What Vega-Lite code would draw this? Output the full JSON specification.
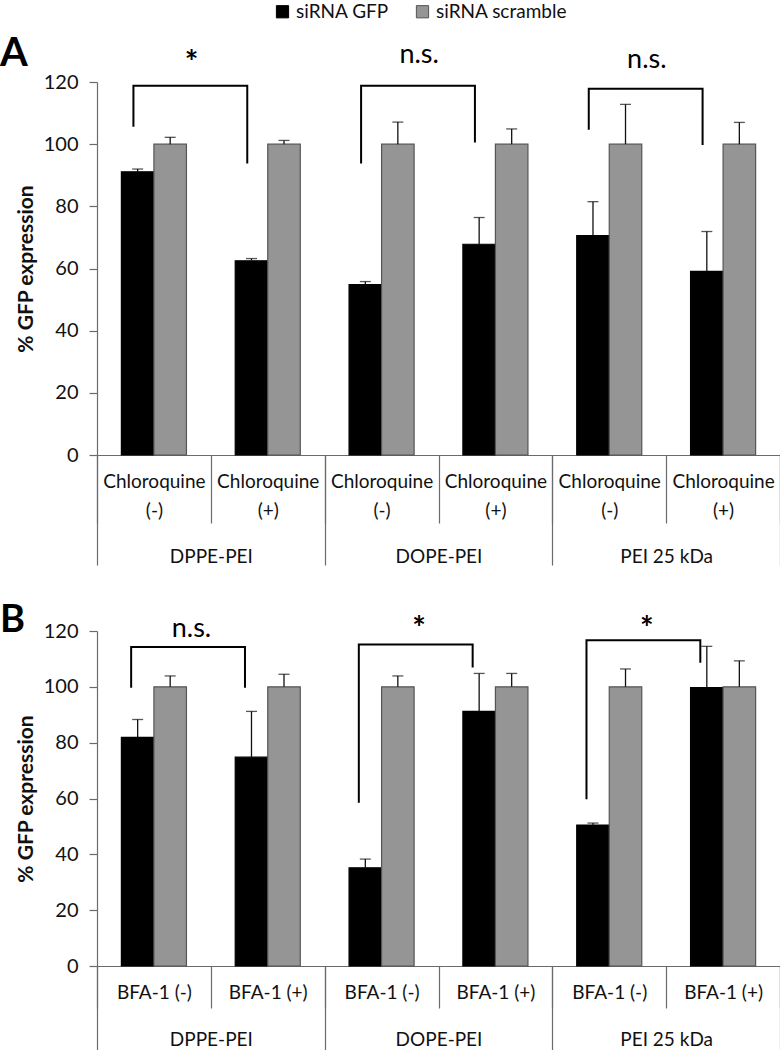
{
  "$schema": "https://vega.github.io/schema/vega-lite/v6.json",
  "padding": {"left": 0, "top": 2, "right": 0, "bottom": 0},
  "datasets": {
    "barsA": [
      {"group": "DPPE-PEI", "slot": "DPPE-PEI: Chloroquine (-)", "series": "siRNA GFP", "value": 91.1, "upper": 92.0},
      {"group": "DPPE-PEI", "slot": "DPPE-PEI: Chloroquine (-)", "series": "siRNA scramble", "value": 100, "upper": 102.2},
      {"group": "DPPE-PEI", "slot": "DPPE-PEI: Chloroquine (+)", "series": "siRNA GFP", "value": 62.5, "upper": 63.2},
      {"group": "DPPE-PEI", "slot": "DPPE-PEI: Chloroquine (+)", "series": "siRNA scramble", "value": 100, "upper": 101.2},
      {"group": "DOPE-PEI", "slot": "DOPE-PEI: Chloroquine (-)", "series": "siRNA GFP", "value": 54.8, "upper": 55.8},
      {"group": "DOPE-PEI", "slot": "DOPE-PEI: Chloroquine (-)", "series": "siRNA scramble", "value": 100, "upper": 107.1},
      {"group": "DOPE-PEI", "slot": "DOPE-PEI: Chloroquine (+)", "series": "siRNA GFP", "value": 67.8, "upper": 76.4},
      {"group": "DOPE-PEI", "slot": "DOPE-PEI: Chloroquine (+)", "series": "siRNA scramble", "value": 100, "upper": 104.9},
      {"group": "PEI 25 kDa", "slot": "PEI 25 kDa: Chloroquine (-)", "series": "siRNA GFP", "value": 70.6, "upper": 81.5},
      {"group": "PEI 25 kDa", "slot": "PEI 25 kDa: Chloroquine (-)", "series": "siRNA scramble", "value": 100, "upper": 112.8},
      {"group": "PEI 25 kDa", "slot": "PEI 25 kDa: Chloroquine (+)", "series": "siRNA GFP", "value": 59.1, "upper": 71.9},
      {"group": "PEI 25 kDa", "slot": "PEI 25 kDa: Chloroquine (+)", "series": "siRNA scramble", "value": 100, "upper": 107.0}
    ],
    "barsB": [
      {"group": "DPPE-PEI", "slot": "DPPE-PEI: BFA-1  (-)", "series": "siRNA GFP", "value": 81.9, "upper": 88.3},
      {"group": "DPPE-PEI", "slot": "DPPE-PEI: BFA-1  (-)", "series": "siRNA scramble", "value": 100, "upper": 103.9},
      {"group": "DPPE-PEI", "slot": "DPPE-PEI: BFA-1 (+)", "series": "siRNA GFP", "value": 74.8, "upper": 91.2},
      {"group": "DPPE-PEI", "slot": "DPPE-PEI: BFA-1 (+)", "series": "siRNA scramble", "value": 100, "upper": 104.5},
      {"group": "DOPE-PEI", "slot": "DOPE-PEI: BFA-1  (-)", "series": "siRNA GFP", "value": 35.2, "upper": 38.3},
      {"group": "DOPE-PEI", "slot": "DOPE-PEI: BFA-1  (-)", "series": "siRNA scramble", "value": 100, "upper": 103.9},
      {"group": "DOPE-PEI", "slot": "DOPE-PEI: BFA-1 (+)", "series": "siRNA GFP", "value": 91.2, "upper": 104.8},
      {"group": "DOPE-PEI", "slot": "DOPE-PEI: BFA-1 (+)", "series": "siRNA scramble", "value": 100, "upper": 104.8},
      {"group": "PEI 25 kDa", "slot": "PEI 25 kDa: BFA-1  (-)", "series": "siRNA GFP", "value": 50.5, "upper": 51.2},
      {"group": "PEI 25 kDa", "slot": "PEI 25 kDa: BFA-1  (-)", "series": "siRNA scramble", "value": 100, "upper": 106.4},
      {"group": "PEI 25 kDa", "slot": "PEI 25 kDa: BFA-1 (+)", "series": "siRNA GFP", "value": 99.7, "upper": 114.5},
      {"group": "PEI 25 kDa", "slot": "PEI 25 kDa: BFA-1 (+)", "series": "siRNA scramble", "value": 100, "upper": 109.3}
    ],
    "bracketsA": [
      {"bracket": 1, "order": 1, "slot": "DPPE-PEI: Chloroquine (-)", "y": 105.6},
      {"bracket": 1, "order": 2, "slot": "DPPE-PEI: Chloroquine (-)", "y": 118.8},
      {"bracket": 1, "order": 3, "slot": "DPPE-PEI: Chloroquine (+)", "y": 118.8},
      {"bracket": 1, "order": 4, "slot": "DPPE-PEI: Chloroquine (+)", "y": 93.8},
      {"bracket": 2, "order": 1, "slot": "DOPE-PEI: Chloroquine (-)", "y": 93.8},
      {"bracket": 2, "order": 2, "slot": "DOPE-PEI: Chloroquine (-)", "y": 118.8},
      {"bracket": 2, "order": 3, "slot": "DOPE-PEI: Chloroquine (+)", "y": 118.8},
      {"bracket": 2, "order": 4, "slot": "DOPE-PEI: Chloroquine (+)", "y": 100.5},
      {"bracket": 3, "order": 1, "slot": "PEI 25 kDa: Chloroquine (-)", "y": 104.6},
      {"bracket": 3, "order": 2, "slot": "PEI 25 kDa: Chloroquine (-)", "y": 117.8},
      {"bracket": 3, "order": 3, "slot": "PEI 25 kDa: Chloroquine (+)", "y": 117.8},
      {"bracket": 3, "order": 4, "slot": "PEI 25 kDa: Chloroquine (+)", "y": 99.7}
    ],
    "bracketsB": [
      {"bracket": 1, "order": 1, "slot": "DPPE-PEI: BFA-1  (-)", "y": 99.7},
      {"bracket": 1, "order": 2, "slot": "DPPE-PEI: BFA-1  (-)", "y": 114.3},
      {"bracket": 1, "order": 3, "slot": "DPPE-PEI: BFA-1 (+)", "y": 114.3},
      {"bracket": 1, "order": 4, "slot": "DPPE-PEI: BFA-1 (+)", "y": 99.7},
      {"bracket": 2, "order": 1, "slot": "DOPE-PEI: BFA-1  (-)", "y": 58.5},
      {"bracket": 2, "order": 2, "slot": "DOPE-PEI: BFA-1  (-)", "y": 115.2},
      {"bracket": 2, "order": 3, "slot": "DOPE-PEI: BFA-1 (+)", "y": 115.2},
      {"bracket": 2, "order": 4, "slot": "DOPE-PEI: BFA-1 (+)", "y": 106.9},
      {"bracket": 3, "order": 1, "slot": "PEI 25 kDa: BFA-1  (-)", "y": 59.7},
      {"bracket": 3, "order": 2, "slot": "PEI 25 kDa: BFA-1  (-)", "y": 116.7},
      {"bracket": 3, "order": 3, "slot": "PEI 25 kDa: BFA-1 (+)", "y": 116.7},
      {"bracket": 3, "order": 4, "slot": "PEI 25 kDa: BFA-1 (+)", "y": 108.6}
    ],
    "sigA": [
      {"slot": "DPPE-PEI: Chloroquine (-)", "label": "*", "y": 122.6},
      {"slot": "DOPE-PEI: Chloroquine (-)", "label": "n.s.", "y": 126.1},
      {"slot": "PEI 25 kDa: Chloroquine (-)", "label": "n.s.", "y": 124.5}
    ],
    "sigB": [
      {"slot": "DPPE-PEI: BFA-1  (-)", "label": "n.s.", "y": 117.8},
      {"slot": "DOPE-PEI: BFA-1  (-)", "label": "*", "y": 116.7},
      {"slot": "PEI 25 kDa: BFA-1  (-)", "label": "*", "y": 116.7}
    ]
  },
  "vconcat": [
    {
      "width": 683,
      "height": 373,
      "title": {"text": "A", "anchor": "start", "frame": "group", "fontSize": 40, "fontWeight": "bold", "dx": -97, "offset": -33, "color": "#000"},
      "resolve": {"scale": {"x": "independent"}, "axis": {"x": "independent"}},
      "layer": [
        {
          "layer": [
            {
              "data": {"name": "barsA"},
              "mark": {"type": "bar", "strokeWidth": 1.2},
              "encoding": {
                "x": {"field": "slot", "type": "nominal", "sort": null,
                  "scale": {"paddingInner": 0, "paddingOuter": 0},
                  "axis": {"title": null, "orient": "bottom", "tickBand": "extent", "tickSize": 68, "labelPadding": -51, "labelAngle": 0, "labelFontSize": 19, "labelLineHeight": 29, "labelOverlap": false, "labelExpr": "indexof(datum.label, ': ') < 0 ? '' : split(split(datum.label, ': ')[1], ' ')"}},
                "xOffset": {"field": "series", "type": "nominal", "sort": null, "scale": {"paddingInner": 0, "paddingOuter": 0.75}},
                "y": {"field": "value", "type": "quantitative", "scale": {"domain": [0, 120]},
                  "axis": {"title": "% GFP expression", "values": [0, 20, 40, 60, 80, 100, 120], "tickSize": 8, "labelPadding": 11, "labelFontSize": 20, "titleFontSize": 21, "titleFontWeight": "bold", "titlePadding": 7}},
                "color": {"field": "series", "type": "nominal", "scale": {"domain": ["siRNA GFP", "siRNA scramble"], "range": ["#000000", "#959595"]},
                  "legend": {"title": null, "orient": "none", "legendX": 176, "legendY": -80, "direction": "horizontal", "symbolType": "square", "symbolSize": 150, "symbolStrokeColor": "#444", "symbolStrokeWidth": 1, "labelFontSize": 19, "columnPadding": 24, "labelOffset": 4}},
                "stroke": {"field": "series", "type": "nominal", "scale": {"domain": ["siRNA GFP", "siRNA scramble"], "range": ["#000000", "#555555"]}, "legend": null}
              }
            },
            {
              "data": {"name": "barsA"},
              "mark": {"type": "rule", "color": "#111", "strokeWidth": 1.3},
              "encoding": {
                "x": {"field": "slot", "type": "nominal", "sort": null},
                "xOffset": {"field": "series", "type": "nominal", "sort": null},
                "y": {"field": "value", "type": "quantitative"},
                "y2": {"field": "upper"}
              }
            },
            {
              "data": {"name": "barsA"},
              "mark": {"type": "tick", "color": "#111", "size": 11, "thickness": 1.3},
              "encoding": {
                "x": {"field": "slot", "type": "nominal", "sort": null},
                "xOffset": {"field": "series", "type": "nominal", "sort": null},
                "y": {"field": "upper", "type": "quantitative"}
              }
            },
            {
              "data": {"name": "bracketsA"},
              "mark": {"type": "line", "color": "#000", "strokeWidth": 2},
              "encoding": {
                "x": {"field": "slot", "type": "nominal", "sort": null, "bandPosition": 0.32},
                "y": {"field": "y", "type": "quantitative"},
                "order": {"field": "order", "type": "quantitative"},
                "detail": {"field": "bracket", "type": "nominal"}
              }
            },
            {
              "data": {"name": "sigA"},
              "transform": [{"filter": "datum.label == '*'"}],
              "mark": {"type": "text", "fontSize": 32, "fontWeight": "bold", "baseline": "alphabetic", "color": "#000"},
              "encoding": {
                "x": {"field": "slot", "type": "nominal", "sort": null, "bandPosition": 0.83},
                "y": {"field": "y", "type": "quantitative"},
                "text": {"field": "label"}
              }
            },
            {
              "data": {"name": "sigA"},
              "transform": [{"filter": "datum.label != '*'"}],
              "mark": {"type": "text", "fontSize": 27, "baseline": "alphabetic", "color": "#000"},
              "encoding": {
                "x": {"field": "slot", "type": "nominal", "sort": null, "bandPosition": 0.83},
                "y": {"field": "y", "type": "quantitative"},
                "text": {"field": "label"}
              }
            }
          ]
        },
        {
          "data": {"name": "barsA"},
          "mark": {"type": "point", "opacity": 0},
          "encoding": {
            "x": {"field": "group", "type": "nominal", "sort": null,
              "scale": {"paddingInner": 0, "paddingOuter": 0},
              "axis": {"title": null, "orient": "bottom", "domain": false, "tickBand": "extent", "tickSize": 110, "labelPadding": -18, "labelAngle": 0, "labelFontSize": 19, "labelOverlap": false}}
          }
        }
      ]
    },
    {
      "width": 683,
      "height": 335,
      "title": {"text": "B", "anchor": "start", "frame": "group", "fontSize": 38, "fontWeight": "bold", "dx": -97, "offset": -26, "color": "#000"},
      "resolve": {"scale": {"x": "independent"}, "axis": {"x": "independent"}},
      "layer": [
        {
          "layer": [
            {
              "data": {"name": "barsB"},
              "mark": {"type": "bar", "strokeWidth": 1.2},
              "encoding": {
                "x": {"field": "slot", "type": "nominal", "sort": null,
                  "scale": {"paddingInner": 0, "paddingOuter": 0},
                  "axis": {"title": null, "orient": "bottom", "tickBand": "extent", "tickSize": 42, "labelPadding": -25, "labelAngle": 0, "labelFontSize": 19, "labelOverlap": false, "labelExpr": "indexof(datum.label, ': ') < 0 ? '' : split(datum.label, ': ')[1]"}},
                "xOffset": {"field": "series", "type": "nominal", "sort": null, "scale": {"paddingInner": 0, "paddingOuter": 0.75}},
                "y": {"field": "value", "type": "quantitative", "scale": {"domain": [0, 120]},
                  "axis": {"title": "% GFP expression", "values": [0, 20, 40, 60, 80, 100, 120], "tickSize": 8, "labelPadding": 11, "labelFontSize": 20, "titleFontSize": 21, "titleFontWeight": "bold", "titlePadding": 7}},
                "color": {"field": "series", "type": "nominal", "scale": {"domain": ["siRNA GFP", "siRNA scramble"], "range": ["#000000", "#959595"]}},
                "stroke": {"field": "series", "type": "nominal", "scale": {"domain": ["siRNA GFP", "siRNA scramble"], "range": ["#000000", "#555555"]}, "legend": null}
              }
            },
            {
              "data": {"name": "barsB"},
              "mark": {"type": "rule", "color": "#111", "strokeWidth": 1.3},
              "encoding": {
                "x": {"field": "slot", "type": "nominal", "sort": null},
                "xOffset": {"field": "series", "type": "nominal", "sort": null},
                "y": {"field": "value", "type": "quantitative"},
                "y2": {"field": "upper"}
              }
            },
            {
              "data": {"name": "barsB"},
              "mark": {"type": "tick", "color": "#111", "size": 11, "thickness": 1.3},
              "encoding": {
                "x": {"field": "slot", "type": "nominal", "sort": null},
                "xOffset": {"field": "series", "type": "nominal", "sort": null},
                "y": {"field": "upper", "type": "quantitative"}
              }
            },
            {
              "data": {"name": "bracketsB"},
              "mark": {"type": "line", "color": "#000", "strokeWidth": 2},
              "encoding": {
                "x": {"field": "slot", "type": "nominal", "sort": null, "bandPosition": 0.3},
                "y": {"field": "y", "type": "quantitative"},
                "order": {"field": "order", "type": "quantitative"},
                "detail": {"field": "bracket", "type": "nominal"}
              }
            },
            {
              "data": {"name": "sigB"},
              "transform": [{"filter": "datum.label == '*'"}],
              "mark": {"type": "text", "fontSize": 32, "fontWeight": "bold", "baseline": "alphabetic", "color": "#000"},
              "encoding": {
                "x": {"field": "slot", "type": "nominal", "sort": null, "bandPosition": 0.83},
                "y": {"field": "y", "type": "quantitative"},
                "text": {"field": "label"}
              }
            },
            {
              "data": {"name": "sigB"},
              "transform": [{"filter": "datum.label != '*'"}],
              "mark": {"type": "text", "fontSize": 27, "baseline": "alphabetic", "color": "#000"},
              "encoding": {
                "x": {"field": "slot", "type": "nominal", "sort": null, "bandPosition": 0.83},
                "y": {"field": "y", "type": "quantitative"},
                "text": {"field": "label"}
              }
            }
          ]
        },
        {
          "data": {"name": "barsB"},
          "mark": {"type": "point", "opacity": 0},
          "encoding": {
            "x": {"field": "group", "type": "nominal", "sort": null,
              "scale": {"paddingInner": 0, "paddingOuter": 0},
              "axis": {"title": null, "orient": "bottom", "domain": false, "tickBand": "extent", "tickSize": 90, "labelPadding": -26, "labelAngle": 0, "labelFontSize": 19, "labelOverlap": false}}
          }
        }
      ]
    }
  ],
  "spacing": 176,
  "bounds": "flush",
  "config": {
    "font": "Lato",
    "view": {"stroke": null},
    "axis": {"grid": false, "domainColor": "#6b6b6b", "tickColor": "#6b6b6b", "labelColor": "#111", "titleColor": "#111", "domainWidth": 1.2, "tickWidth": 1.2},
    "title": {"font": "Lato"},
    "legend": {"labelColor": "#111"}
  }
}
